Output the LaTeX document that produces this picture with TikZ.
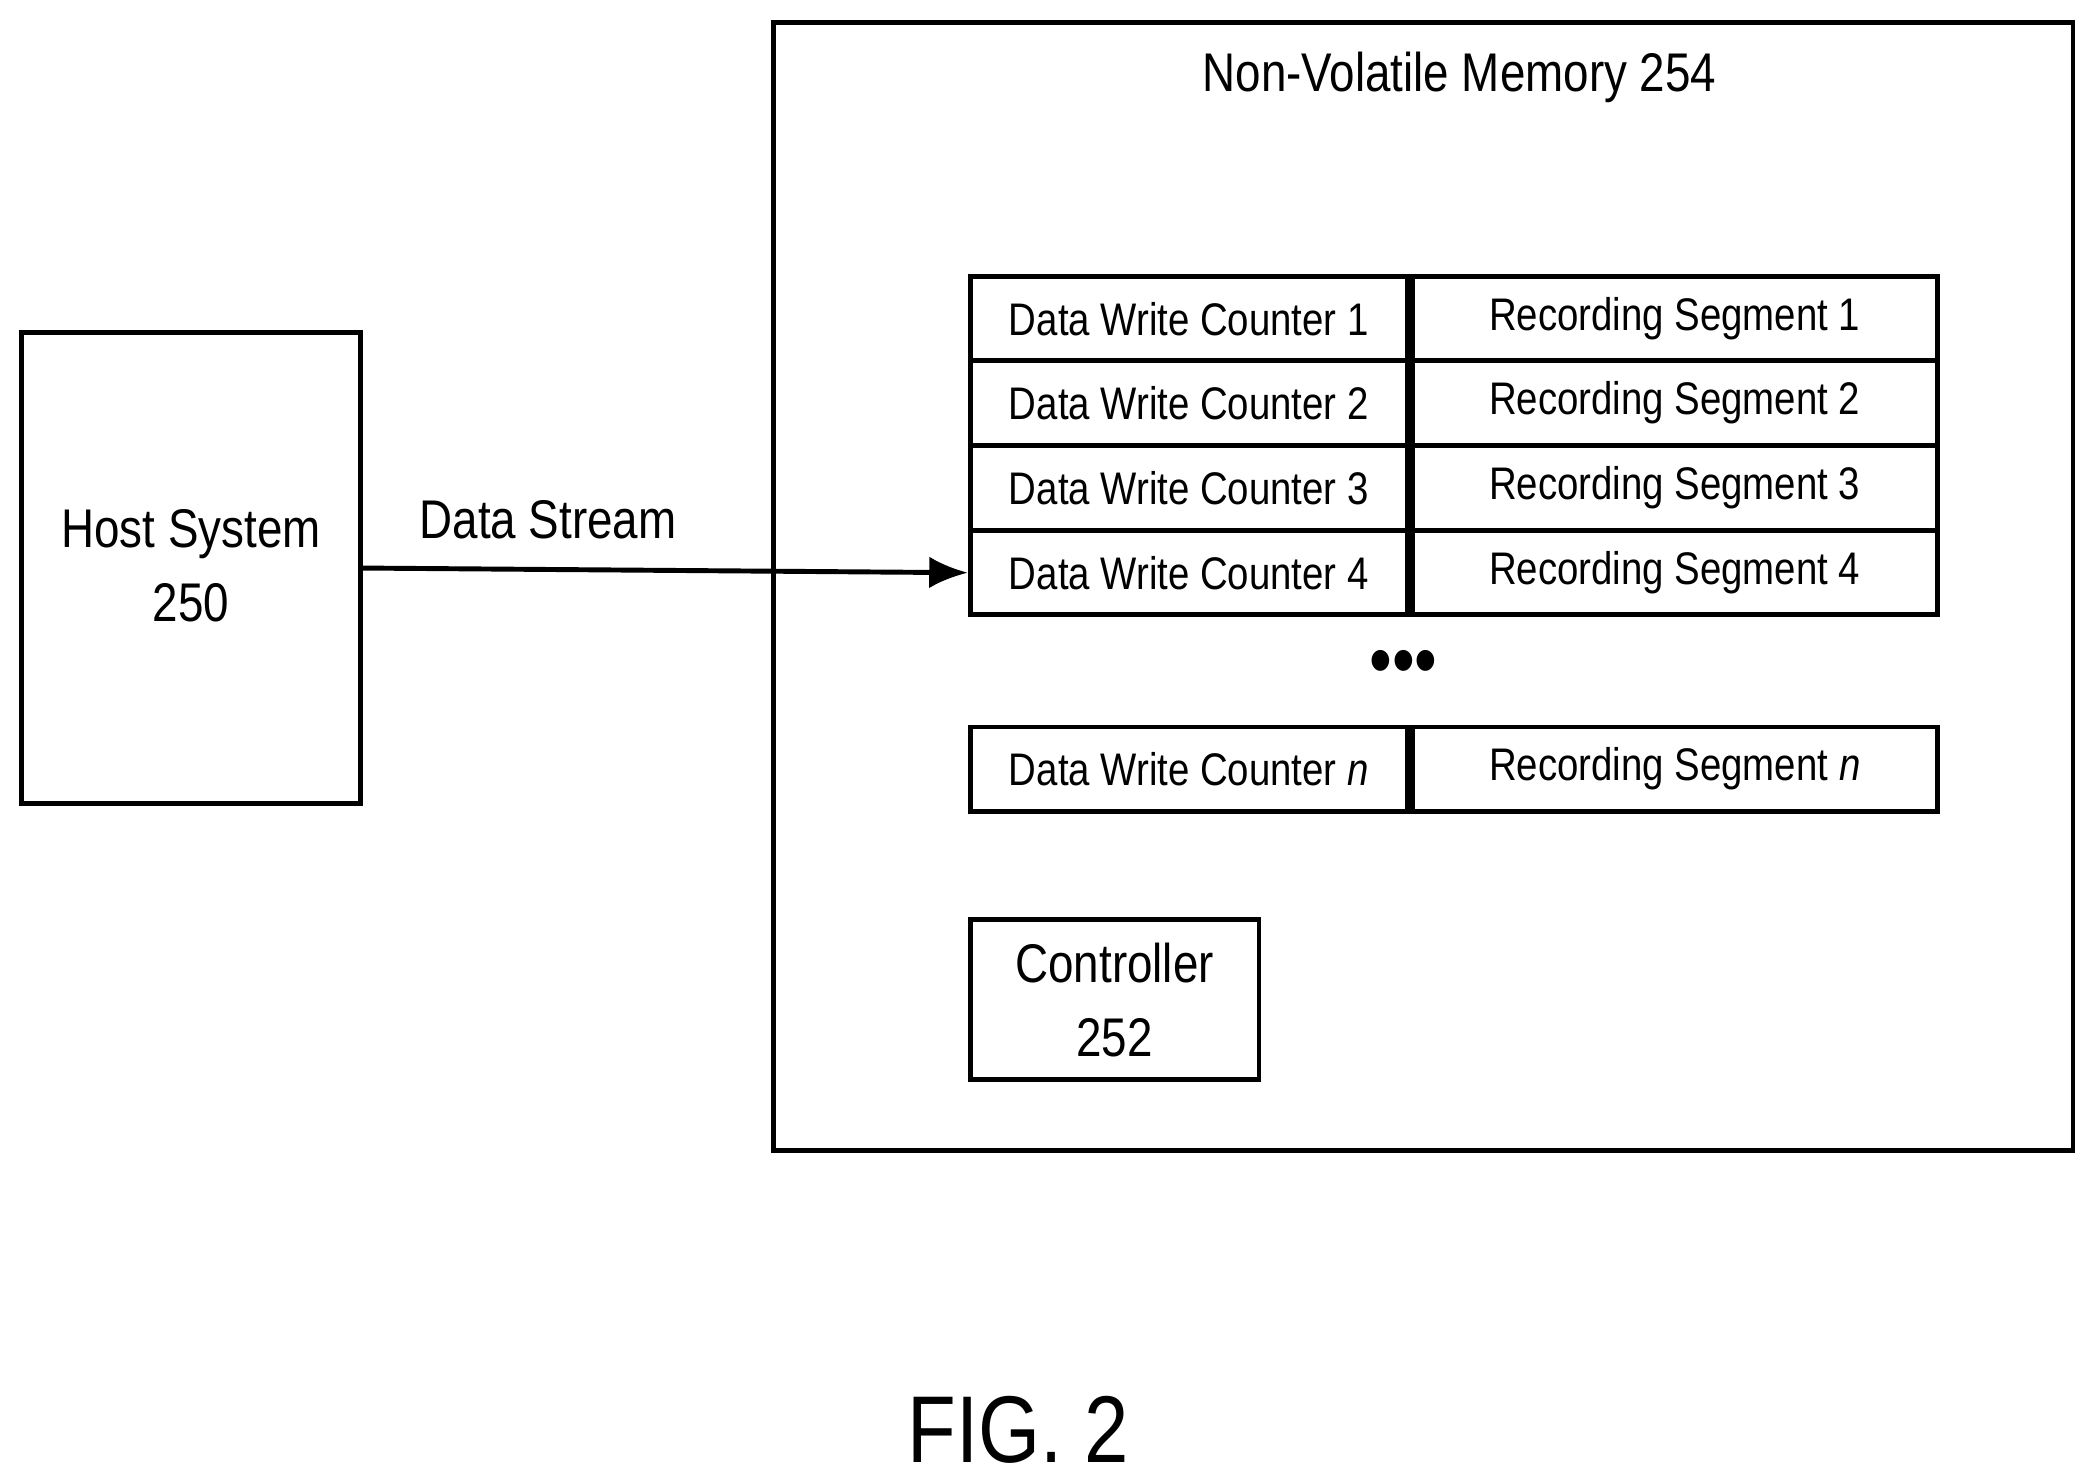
\documentclass[tikz,border=0pt]{standalone}
\usepackage{fontspec}
\setmainfont{Liberation Sans}[FakeStretch=0.84]
\usetikzlibrary{positioning,arrows.meta}
\tikzset{cell/.style={draw,line width=1.4pt,minimum height=0.843cm,inner sep=0pt,font=\fontsize{13}{15}\selectfont}}
\begin{document}
\begin{tikzpicture}[x=0.013365cm,y=-0.013365cm]
\useasboundingbox (0,0) rectangle (1563,1106);
% host and memory
\draw[line width=1.4pt] (16,249) rectangle (270,601);
\node[align=center,font=\fontsize{15.5}{19}\selectfont] (host) at (143,423) {Host System\\[2pt]250};
\draw[line width=1.4pt] (579,17) rectangle (1551,861);
\node[font=\fontsize{15.5}{19}\selectfont] (nvm) at (1092,58) {Non-Volatile Memory 254};
% table
\foreach \i/\y in {1/238.5,2/301.5,3/365,4/428.5,n/575.5}{
  \node[cell,minimum width=4.37cm] (c\i) at (889.5,\y) {Data Write Counter \if n\i\textit{n}\else\i\fi};
  \node[cell,minimum width=5.25cm,right=0pt of c\i] (s\i) {Recording Segment \if n\i\textit{n}\else\i\fi};
}
\node[font=\fontsize{22}{22}\selectfont] (dots) at (1050,500) {\textbullet\textbullet\textbullet};
\draw[line width=1.4pt] (726,688) rectangle (942,808);
\node[align=center,font=\fontsize{15.5}{19}\selectfont] (ctrl) at (834,748) {Controller\\[2pt]252};
% arrow
\coordinate (h) at (270,425);
\draw[line width=1.4pt,-{Latex[length=11pt,width=9pt]}] (h) -- (c4.west);
\node[font=\fontsize{15.5}{19}\selectfont] (ds) at (410,389) {Data Stream};
\node[font=\fontsize{27}{30}\selectfont] (fig) at (762,1070) {FIG. 2};
\end{tikzpicture}
\end{document}
